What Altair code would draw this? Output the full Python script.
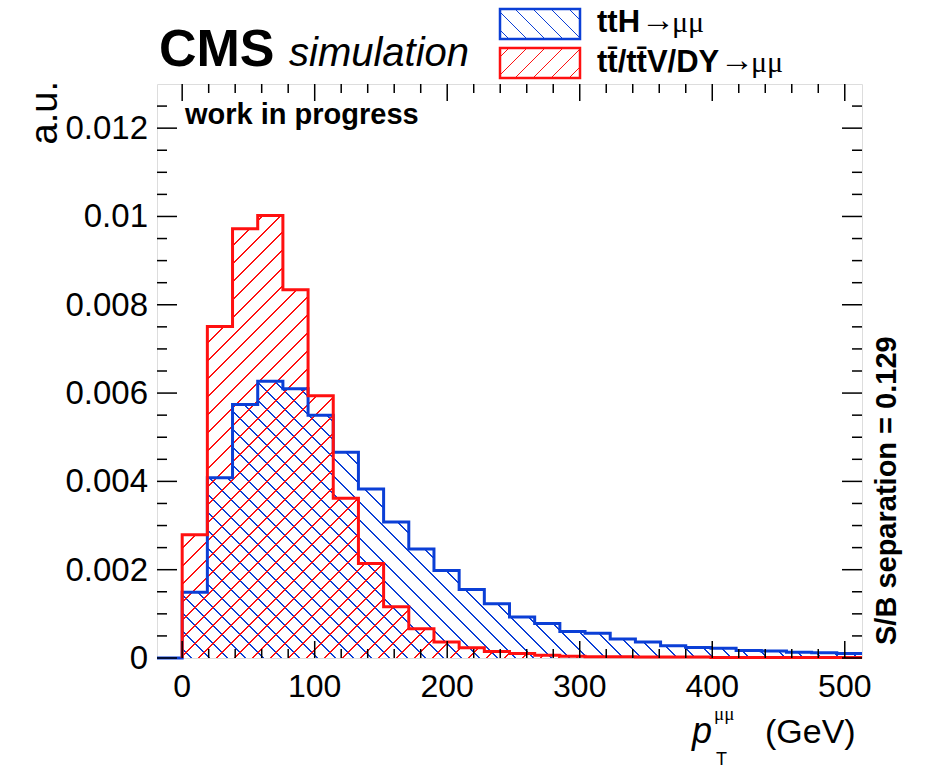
import math
import altair as alt
import pandas as pd

# ---- histogram contents (normalised to unit area) ----
BIN_WIDTH = 19
tth_mumu = [0.00149, 0.00408, 0.00574, 0.00627, 0.00610, 0.00550, 0.00466, 0.00383,
            0.00308, 0.00247, 0.00198, 0.00155, 0.00123, 0.00093, 0.00078, 0.00060,
            0.00056, 0.00043, 0.00036, 0.00028, 0.00024, 0.00022, 0.00017, 0.00016,
            0.00013, 0.00012, 0.00010]
bkg_mumu = [0.00279, 0.00751, 0.00972, 0.01002, 0.00834, 0.00594, 0.00362, 0.00214,
            0.00116, 0.00066, 0.00036, 0.00023, 0.00015, 0.00010, 0.00006, 0.00004,
            0.00003, 0.00003, 0.00002, 0.00002, 0.00002, 0.00001, 0.00001, 0.00001,
            0.00001, 0.00001, 0.00001]

X_MIN, X_MAX = -19, 513
Y_MIN, Y_MAX = 0.0, 0.013
x_major = [0, 100, 200, 300, 400, 500]
x_minor = [v for v in range(0, X_MAX, 20) if v % 100]
y_major = [0, 0.002, 0.004, 0.006, 0.008, 0.01, 0.012]
y_minor = [k * 0.0005 for k in range(0, 26) if k % 4]

W, H = 705, 574
SANS = "Liberation Sans"
SERIF = "Liberation Serif"
BLUE = "#0b3fd6"
RED = "#ff1010"

xs = alt.Scale(domain=[X_MIN, X_MAX], nice=False, zero=False)
ys = alt.Scale(domain=[Y_MIN, Y_MAX], nice=False, zero=False)


def hatch(color, bw, bh, direction, spacing=18.0, lw=1.3):
    """Repeating-stripe linear gradient giving 45-degree hatching over a bw x bh box."""
    span = bw + bh
    a = bw * (bw + bh) / (bw * bw + bh * bh)
    if direction == "/":
        x1, y1, x2, y2 = 0, 0, a, a * bh / bw
    else:
        x1, y1, x2, y2 = 0, 1, a, 1 - a * bh / bw
    clear = "rgba(255,255,255,0)"
    hw = lw * math.sqrt(2) / 2
    stops = [{"offset": 0, "color": clear}]
    c = spacing / 2
    while c + hw < span:
        lo, hi = (c - hw) / span, (c + hw) / span
        stops += [{"offset": lo, "color": clear}, {"offset": lo, "color": color},
                  {"offset": hi, "color": color}, {"offset": hi, "color": clear}]
        c += spacing
    stops.append({"offset": 1, "color": clear})
    return {"gradient": "linear", "stops": stops, "x1": x1, "y1": y1, "x2": x2, "y2": y2}


def area_frame(values):
    xs_ = [i * BIN_WIDTH for i in range(len(values))] + [len(values) * BIN_WIDTH]
    return pd.DataFrame({"x": xs_, "y": list(values) + [values[-1]]})


def outline_frame(values, start):
    xs_ = [start] + [i * BIN_WIDTH for i in range(len(values))] + [len(values) * BIN_WIDTH]
    ys_ = [0] + list(values) + [values[-1]]
    return pd.DataFrame({"x": xs_, "y": ys_, "i": range(len(xs_))})


def hist_area(values, color, direction):
    bw = len(values) * BIN_WIDTH / (X_MAX - X_MIN) * W
    bh = max(values) / (Y_MAX - Y_MIN) * H
    return alt.Chart(area_frame(values)).mark_area(
        interpolate="step-after", fill=hatch(color, bw, bh, direction), strokeWidth=0
    ).encode(
        x=alt.X("x:Q", scale=xs, axis=None),
        y=alt.Y("y:Q", scale=ys, axis=None),
        y2=alt.datum(0),
    )


def hist_line(values, color, start):
    return alt.Chart(outline_frame(values, start)).mark_line(
        interpolate="step-after", color=color, strokeWidth=3, strokeJoin="miter"
    ).encode(
        x=alt.X("x:Q", scale=xs, axis=None),
        y=alt.Y("y:Q", scale=ys, axis=None),
        order="i:Q",
    )


# tick labels, placed through the shared scales
x_labels = alt.Chart(pd.DataFrame({"v": x_major})).mark_text(
    font=SANS, fontSize=32, align="center", baseline="alphabetic", color="black"
).encode(x=alt.X("v:Q", scale=xs, axis=None), y=alt.value(H + 39),
         text=alt.Text("v:Q", format="d"))

y_labels = alt.Chart(pd.DataFrame({"v": y_major})).mark_text(
    font=SANS, fontSize=33, align="right", baseline="middle", color="black", dy=1
).encode(y=alt.Y("v:Q", scale=ys, axis=None), x=alt.value(-9),
         text=alt.Text("v:Q", format="~g"))


def xticks(vals, length, top):
    y0 = 0 if top else H
    y1 = length if top else H - length
    return alt.Chart(pd.DataFrame({"v": vals})).mark_rule(color="black", strokeWidth=1.5).encode(
        x=alt.X("v:Q", scale=xs, axis=None), y=alt.value(y0), y2=alt.value(y1))


def yticks(vals, length, right):
    x0 = W if right else 0
    x1 = W - length if right else length
    return alt.Chart(pd.DataFrame({"v": vals})).mark_rule(color="black", strokeWidth=1.5).encode(
        y=alt.Y("v:Q", scale=ys, axis=None), x=alt.value(x0), x2=alt.value(x1))


def text(t, x, y, size, font=SANS, weight="normal", style="normal", align="left",
         baseline="alphabetic", angle=0):
    return alt.Chart(pd.DataFrame({"t": [t]})).mark_text(
        font=font, fontSize=size, fontWeight=weight, fontStyle=style, align=align,
        baseline=baseline, angle=angle, color="black"
    ).encode(x=alt.value(x), y=alt.value(y), text="t:N")


def legend_box(x0, y0, color, direction):
    return alt.Chart(pd.DataFrame({"k": [0]})).mark_rect(
        fill=hatch(color, 80, 30, direction, spacing=18, lw=1.3), stroke=color, strokeWidth=2.5
    ).encode(x=alt.value(x0), x2=alt.value(x0 + 80), y=alt.value(y0), y2=alt.value(y0 + 30))


layers = [
    hist_area(tth_mumu, BLUE, "\\"),
    hist_area(bkg_mumu, RED, "/"),
    hist_line(tth_mumu, BLUE, X_MIN),
    hist_line(bkg_mumu, RED, 0),
    xticks(x_major, 17, False), xticks(x_minor, 9, False),
    xticks(x_major, 17, True), xticks(x_minor, 9, True),
    yticks(y_major, 20, False), yticks(y_minor, 10, False),
    yticks(y_major, 20, True), yticks(y_minor, 10, True),
    x_labels, y_labels,
    # header
    text("CMS", 2, -18, 52, weight="bold"),
    text("simulation", 132, -18, 40, style="italic"),
    legend_box(343, -75, BLUE, "\\"),
    legend_box(343, -36, RED, "/"),
    text("ttH", 440, -52, 31, weight="bold"),
    text("\u2192", 484, -53, 34, font=SERIF),
    text("\u03bc\u03bc", 515, -52, 30, font=SERIF),
    text("tt\u0304/tt\u0304V/DY", 440, -12, 31, weight="bold"),
    text("\u2192", 563, -13, 34, font=SERIF),
    text("\u03bc\u03bc", 594, -12, 30, font=SERIF),
    text("work in progress", 28, 40, 29, weight="bold"),
    # axis titles and annotation
    text("a.u.", -100, -3, 38, align="right", angle=270),
    text("p", 535, 659, 36, style="italic"),
    text("\u03bc\u03bc", 557, 636, 19, font=SERIF),
    text("T", 559, 681, 18),
    text("(GeV)", 608, 659, 34),
    text("S/B separation = 0.129", 739, 561, 29, weight="bold", angle=270),
]

chart = alt.layer(*layers).properties(
    width=W, height=H,
    autosize=alt.AutoSizeParams(type="none"),
    padding={"left": 157, "top": 84, "right": 65, "bottom": 110},
).configure_view(stroke="black", strokeWidth=2).configure(background="white")

chart.save("out.html", embed_options={"renderer": "svg", "actions": False})
